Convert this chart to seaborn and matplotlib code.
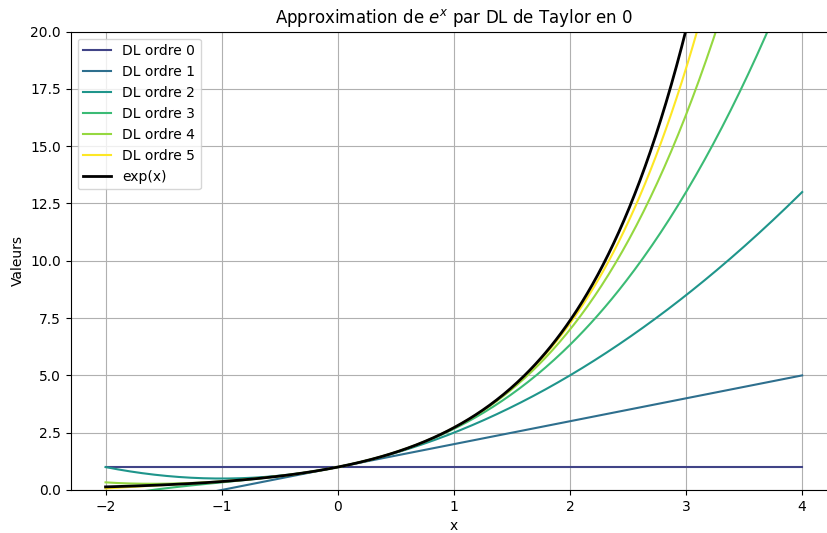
import numpy as np
import pandas as pd
import matplotlib
matplotlib.use("Agg")
import matplotlib.pyplot as plt
import seaborn as sns

# Data: Taylor coefficients of exp at 0 (1/k!)
orders = [0, 1, 2, 3, 4, 5]
coefficients = [1.0, 1.0, 0.5, 0.16666666666666666, 0.041666666666666664, 0.008333333333333333]
labels = ["DL ordre 0", "DL ordre 1", "DL ordre 2", "DL ordre 3", "DL ordre 4", "DL ordre 5"]
x_min, x_max, n_pts = -2.0, 4.0, 400

x = np.linspace(x_min, x_max, n_pts)
frames = []
for k, lab in zip(orders, labels):
    y = sum(coefficients[j] * x**j for j in range(k + 1))
    frames.append(pd.DataFrame({"x": x, "y": y, "serie": lab}))
df = pd.concat(frames, ignore_index=True)
df_exp = pd.DataFrame({"x": x, "y": np.exp(x)})

colors = [matplotlib.colormaps["viridis"](v) for v in np.linspace(0.2, 1.0, 6)]

fig = plt.figure(figsize=(8.27, 5.33), dpi=100)
ax = fig.add_axes([0.0855, 0.0807, 0.9266, 0.860])

sns.lineplot(data=df, x="x", y="y", hue="serie", palette=colors, linewidth=1.5, ax=ax, legend=False)
for lab, c in zip(labels, colors):
    ax.plot([], [], color=c, lw=1.5, label=lab)
sns.lineplot(data=df_exp, x="x", y="y", color="black", linewidth=2, ax=ax, label="exp(x)")

ax.set_ylim(0, 20)
ax.set_xlim(-2.3, 4.3)
ax.set_title("Approximation de $e^x$ par DL de Taylor en 0")
ax.set_xlabel("x")
ax.set_ylabel("Valeurs")
ax.grid(True)
ax.spines["right"].set_visible(False)
ax.legend(loc="upper left")

fig.savefig("out.png", dpi=100)
